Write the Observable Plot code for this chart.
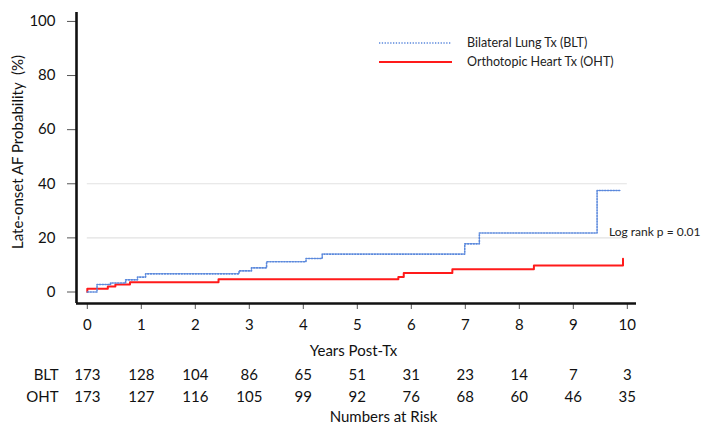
<!DOCTYPE html>
<html><head><meta charset="utf-8">
<script src="https://cdn.jsdelivr.net/npm/d3@7"></script>
<script src="https://cdn.jsdelivr.net/npm/@observablehq/plot@0.6"></script>
<style>body{margin:0;background:#fff;} #chart svg{display:block;}</style>
</head><body><div id="chart"></div>
<script>
// Kaplan-Meier style cumulative incidence (%) by years post-transplant
const bltTimes  = [0, 0.18, 0.43, 0.71, 0.93, 1.08, 2.81, 3.04, 3.32, 4.05, 4.35, 6.99, 7.26, 9.44, 9.86];
const bltValues = [0, 2.8, 3.3, 4.5, 5.5, 6.7, 7.8, 8.9, 11.2, 12.4, 14.0, 17.8, 21.8, 37.5, 37.5];
const ohtTimes  = [0, 0, 0.38, 0.52, 0.79, 2.43, 5.76, 5.86, 6.76, 8.27, 9.92, 9.92];
const ohtValues = [0, 1.2, 2.0, 2.8, 3.6, 4.7, 5.5, 7.0, 8.4, 9.8, 9.8, 12.3];

const riskYears = [0, 1, 2, 3, 4, 5, 6, 7, 8, 9, 10];
const bltRisk = [173, 128, 104, 86, 65, 51, 31, 23, 14, 7, 3];
const ohtRisk = [173, 127, 116, 105, 99, 92, 76, 68, 60, 46, 35];

const xTicks = [0, 1, 2, 3, 4, 5, 6, 7, 8, 9, 10];
const yTicks = [0, 20, 40, 60, 80, 100];
const gridLevels = [20, 40];

const seriesNames = ["Bilateral Lung Tx (BLT)", "Orthotopic Heart Tx (OHT)"];
const riskLabels = ["BLT", "OHT"];

const blt = bltTimes.map((t, i) => ({t, v: bltValues[i]}));
const oht = ohtTimes.map((t, i) => ({t, v: ohtValues[i]}));
const bltRows = riskYears.map((t, i) => ({t, n: String(bltRisk[i])}));
const ohtRows = riskYears.map((t, i) => ({t, n: String(ohtRisk[i])}));

const xDomain = [-0.2, 10.17];
const yDomain = [-4.25, 103.3];
const BLUE = "#5a88dc", RED = "#ff1a1a";
const FONT = "Lato, 'Open Sans', sans-serif";
const DOTS = "1.3 1.5";

const plot = Plot.plot({
  width: 711, height: 426,
  marginLeft: 76, marginRight: 75, marginTop: 12, marginBottom: 123,
  style: {fontFamily: FONT, fontSize: "15px", color: "#111", background: "#fff", overflow: "visible"},
  x: {domain: xDomain, ticks: xTicks, tickSize: 6, tickPadding: 10, label: null, tickFormat: d3.format("d")},
  y: {domain: yDomain, ticks: yTicks, tickSize: 9, tickPadding: 12, label: null, tickFormat: d3.format("d")},
  marks: [
    Plot.ruleY(gridLevels, {x1: 0, x2: 10, stroke: "#e2e2e2", strokeWidth: 1.2}),
    Plot.line(oht, {x: "t", y: "v", curve: "step-after", stroke: RED, strokeWidth: 2}),
    Plot.line(blt, {x: "t", y: "v", curve: "step-after", stroke: BLUE, strokeWidth: 1.6, strokeDasharray: DOTS}),
    Plot.ruleX([xDomain[0]], {stroke: "#111", strokeWidth: 2.6}),
    Plot.ruleY([yDomain[0]], {stroke: "#111", strokeWidth: 2.6}),
    Plot.text(["Log rank p = 0.01"], {x: 9.66, y: 22, text: d => d, textAnchor: "start", fontSize: 12, fill: "#222"}),
    // axis titles
    Plot.text(["Years Post-Tx"], {frameAnchor: "bottom", text: d => d, textAnchor: "middle", lineAnchor: "middle", dx: -3, dy: 48, fontSize: 15}),
    Plot.text(["Late-onset AF Probability  (%)"], {frameAnchor: "left", text: d => d, textAnchor: "middle", lineAnchor: "middle", rotate: -90, dx: -58, dy: -6, fontSize: 15}),
    // numbers at risk
    Plot.text(bltRows, {x: "t", text: "n", frameAnchor: "bottom", lineAnchor: "middle", dy: 72, fontSize: 15}),
    Plot.text(ohtRows, {x: "t", text: "n", frameAnchor: "bottom", lineAnchor: "middle", dy: 94, fontSize: 15}),
    Plot.text([riskLabels[0]], {frameAnchor: "bottom-left", text: d => d, textAnchor: "end", lineAnchor: "middle", dx: -18, dy: 72, fontSize: 15}),
    Plot.text([riskLabels[1]], {frameAnchor: "bottom-left", text: d => d, textAnchor: "end", lineAnchor: "middle", dx: -18, dy: 94, fontSize: 15}),
    Plot.text(["Numbers at Risk"], {frameAnchor: "bottom", text: d => d, textAnchor: "middle", lineAnchor: "middle", dx: 27, dy: 114, fontSize: 15})
  ]
});

// tick styling
const svg = d3.select(plot);
svg.selectAll("[aria-label='y-axis'] line, [aria-label='y-axis tick'] path, [aria-label='x-axis'] line, [aria-label='x-axis tick'] path").attr("stroke", "#555");

// legend (inside the plot area, top right)
const leg = svg.append("g").attr("font-family", FONT).attr("font-size", 12.5).attr("fill", "#222").attr("text-anchor", "start");
leg.append("line").attr("x1", 379).attr("x2", 451).attr("y1", 43).attr("y2", 43)
  .attr("stroke", BLUE).attr("stroke-width", 1.6).attr("stroke-dasharray", DOTS);
leg.append("text").attr("x", 467).attr("y", 43).attr("dy", "0.35em").text(seriesNames[0]);
leg.append("line").attr("x1", 379).attr("x2", 452).attr("y1", 62).attr("y2", 62)
  .attr("stroke", RED).attr("stroke-width", 2);
leg.append("text").attr("x", 467).attr("y", 62).attr("dy", "0.35em").text(seriesNames[1]);

document.getElementById("chart").appendChild(plot);
</script>
</body></html>
